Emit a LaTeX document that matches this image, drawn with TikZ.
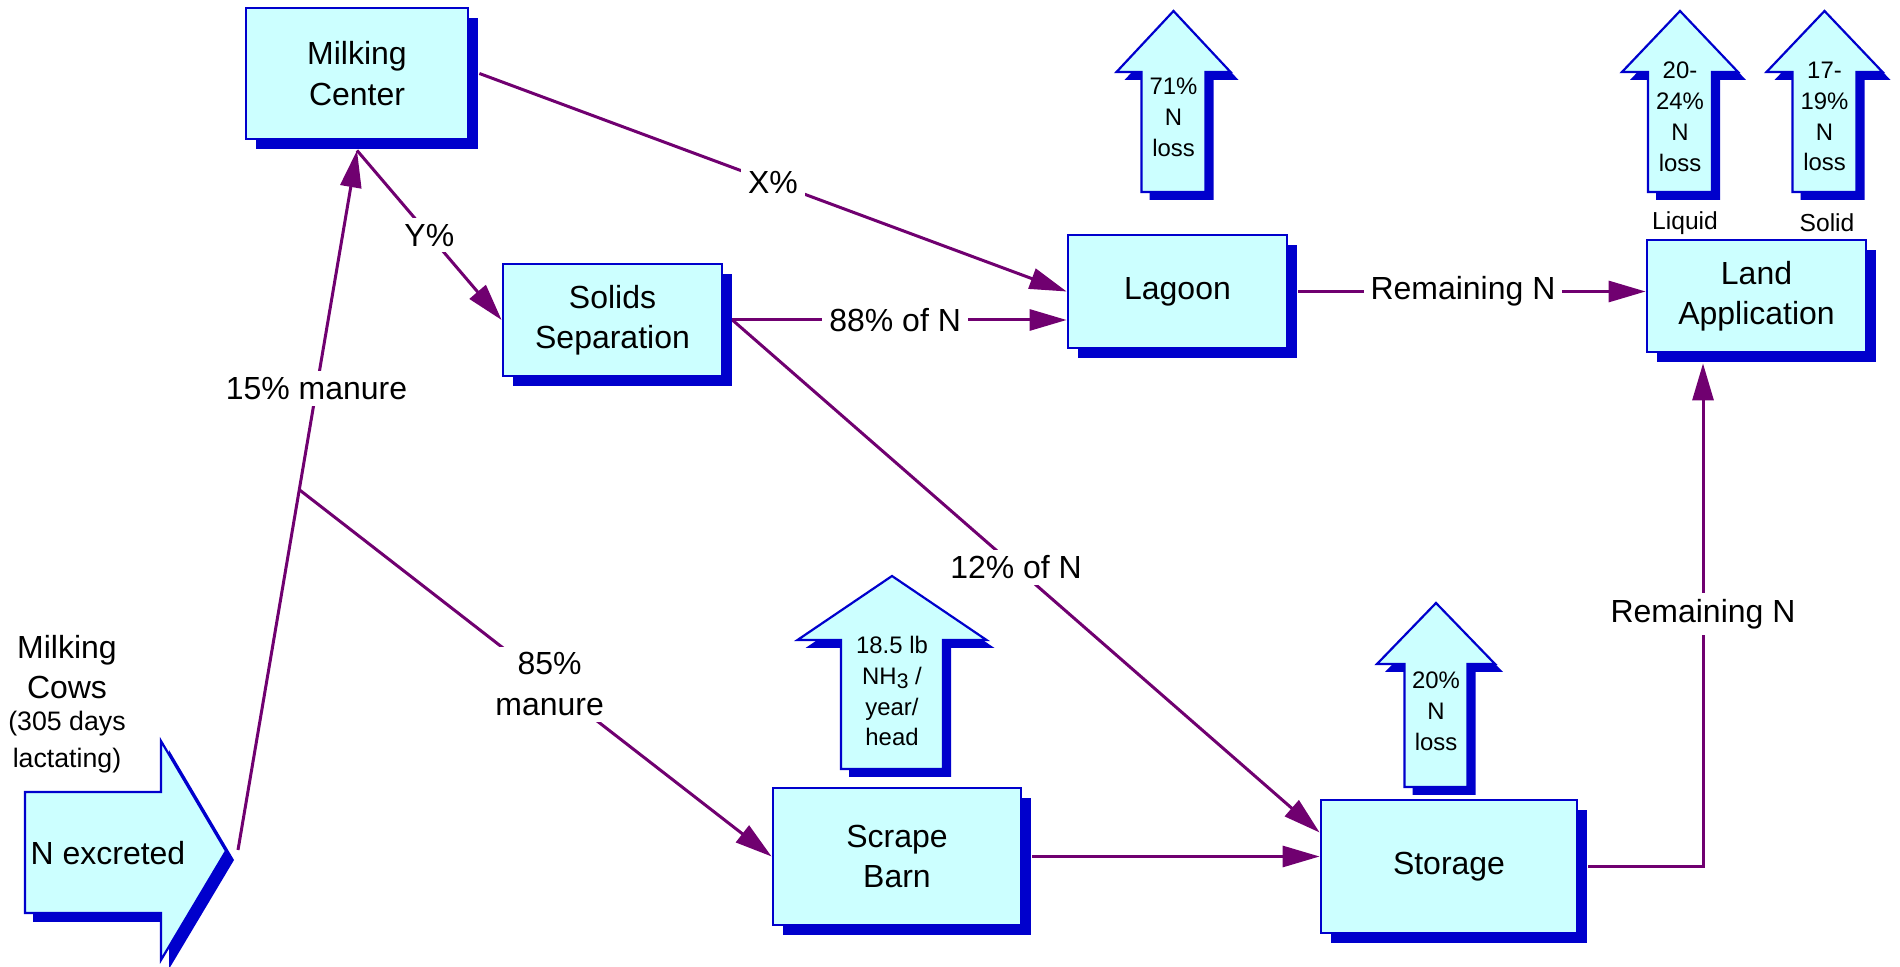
\documentclass[tikz,border=0pt]{standalone}
\usepackage{fontspec}
\setmainfont{Liberation Sans}
\usetikzlibrary{arrows.meta,shadows}
\definecolor{boxfill}{RGB}{204,255,255}
\definecolor{edgeblue}{RGB}{0,0,204}
\definecolor{flow}{RGB}{112,0,112}
\newcommand\boxfont{\fontsize{9.1}{11.5}\selectfont}
\newcommand\smallfont{\fontsize{7.6}{10.5}\selectfont}
\newcommand\lossfont{\fontsize{6.8}{8.8}\selectfont}
% upward loss arrow: name, centre x, tip y, head base y, bottom y,
% head half width, shaft half width, text y, text
\newcommand\lossarrow[9]{%
  \fill[edgeblue, shift={(8,8)}] (#2,#3) -- (#2+#6,#4) -- (#2+#7,#4) -- (#2+#7,#5)
    -- (#2-#7,#5) -- (#2-#7,#4) -- (#2-#6,#4) -- cycle;
  \draw[arrowbody] (#2,#3) -- (#2+#6,#4) -- (#2+#7,#4) -- (#2+#7,#5)
    -- (#2-#7,#5) -- (#2-#7,#4) -- (#2-#6,#4) -- cycle;
  \node[losstext] (#1) at (#2,#8) {#9};
}
\tikzset{
  box/.style={draw=edgeblue, fill=boxfill, line width=0.28mm, align=center,
    font=\boxfont, inner sep=0pt,
    drop shadow={shadow xshift=1mm, shadow yshift=-1mm, fill=edgeblue, opacity=1}},
  arrowbody/.style={draw=edgeblue, fill=boxfill, line width=0.22mm, line join=miter},
  losstext/.style={align=center, font=\lossfont, inner sep=0pt},
  flowline/.style={draw=flow, line width=0.3mm, -{Triangle[length=3.7mm,width=2.1mm]}},
  lbl/.style={fill=white, font=\boxfont, inner xsep=0.7mm, inner ysep=0.6mm},
  plain/.style={align=center, inner sep=0pt},
}
\begin{document}
\begin{tikzpicture}[x=0.1mm, y=-0.1mm]
\useasboundingbox (0,0) rectangle (1900,967);

% process boxes
\node[box, minimum width=22.2mm, minimum height=13.1mm] (mc) at (357,73.5) {Milking\\Center};
\node[box, minimum width=21.9mm, minimum height=11.2mm] (ss) at (612.5,320) {Solids\\Separation};
\node[box, minimum width=21.9mm, minimum height=11.3mm] (lag) at (1177.5,291.5) {Lagoon};
\node[box, minimum width=21.9mm, minimum height=11.2mm] (la) at (1756.5,296) {Land\\Application};
\node[box, minimum width=24.8mm, minimum height=13.7mm] (sb) at (897,856.5) {Scrape\\Barn};
\node[box, minimum width=25.6mm, minimum height=13.3mm] (st) at (1449,866.5) {Storage};

% source arrow
\fill[edgeblue, shift={(8,9)}] (25,792) -- (161,792) -- (161,741) -- (226,851)
  -- (161,960) -- (161,913) -- (25,913) -- cycle;
\draw[arrowbody] (25,792) -- (161,792) -- (161,741) -- (226,851)
  -- (161,960) -- (161,913) -- (25,913) -- cycle;
\node[plain, font=\boxfont] (nex) at (108,853) {N excreted};
\node[plain, font=\boxfont] (cows) at (67,667) {Milking\\Cows};
\node[plain, font=\smallfont] (days) at (67,742) {(305 days\\lactating)};
\coordinate (nextip) at (238,850);

% losses
\lossarrow{l71}{1173.5}{11}{72}{192}{57}{32}{117}{71\%\\N\\loss}
\lossarrow{lliq}{1680}{11}{72}{192}{58}{32}{116.5}{20-\\24\%\\N\\loss}
\lossarrow{lsol}{1824.5}{11}{72}{192}{58}{32}{116.5}{17-\\19\%\\N\\loss}
\lossarrow{lnh}{892}{576}{640}{769}{94.5}{51}{691}{18.5 lb\\NH\raisebox{-0.35ex}{\fontsize{6}{6}\selectfont 3} /\\year/\\head}
\lossarrow{lst}{1436}{603}{664}{787}{59}{31.5}{711}{20\%\\N\\loss}
\node[plain, font=\fontsize{7}{8}\selectfont] (liq) at (1685,223) {Liquid};
\node[plain, font=\fontsize{7}{8}\selectfont] (sol) at (1827,223) {Solid};

% flows
\draw[flowline] (nextip) -- coordinate[pos=0.515] (br)
  node[lbl, pos=0.66] (l15) {15\% manure} ([yshift=-1mm]mc.south);
\draw[flowline] (br) -- node[lbl, align=center, pos=0.53] (l85) {85\%\\manure} (sb.west);
\draw[flowline] ([yshift=-1mm]mc.south) -- node[lbl, pos=0.5] (ly) {Y\%} (ss.west);
\draw[flowline] ([xshift=1mm]mc.east) -- node[lbl, pos=0.5] (lx) {X\%} (lag.west);
\draw[flowline] ([xshift=0.9mm]ss.east) -- node[lbl, pos=0.487] (l88) {88\% of N} (ss.east -| lag.west);
\draw[flowline] ([xshift=0.9mm]ss.east) -- node[lbl, pos=0.483] (l12) {12\% of N} ([yshift=3.4mm]st.west);
\draw[flowline] ([xshift=1mm]lag.east) -- node[lbl, pos=0.474] (lr1) {Remaining N} (lag.east -| la.west);
\draw[flowline] ([xshift=1mm]sb.east) -- (sb.east -| st.west);
\draw[flowline] ([xshift=1mm]st.east) -| node[lbl, pos=0.751] (lr2) {Remaining N}
  ([xshift=-5.35mm, yshift=-1mm]la.south);
\end{tikzpicture}
\end{document}
